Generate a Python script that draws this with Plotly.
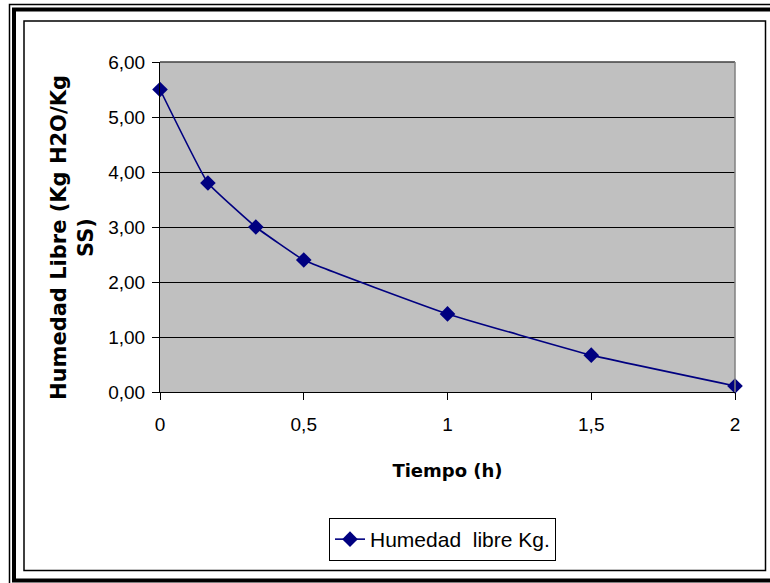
import plotly.graph_objects as go

# Drying curve: free moisture vs time
tiempo_h = [0, 1/6, 1/3, 0.5, 1.0, 1.5, 2.0]
humedad_libre = [5.50, 3.80, 3.00, 2.40, 1.42, 0.67, 0.11]

x_ticks = [0, 0.5, 1, 1.5, 2]
x_tick_text = ["0", "0,5", "1", "1,5", "2"]
y_ticks = [0, 1, 2, 3, 4, 5, 6]
y_tick_text = ["0,00", "1,00", "2,00", "3,00", "4,00", "5,00", "6,00"]

W, H = 770, 583
L, R, T, B = 160, 35, 62, 191
PW, PH = W - L - R, H - T - B


def px(x):
    return (x - L) / PW


def py(y):
    return (H - B - y) / PH


NAVY = "#000080"
FONT = "Liberation Sans, Arial, sans-serif"

fig = go.Figure()
fig.add_trace(go.Scatter(
    x=tiempo_h, y=humedad_libre,
    mode="lines+markers",
    name="Humedad\u00a0 libre Kg.",
    line=dict(color=NAVY, width=1.6, shape="spline", smoothing=0.3),
    marker=dict(symbol="diamond", size=12, color=NAVY),
    cliponaxis=False,
))

fig.update_layout(
    width=W, height=H,
    margin=dict(l=L, r=R, t=T, b=B, pad=0),
    paper_bgcolor="white",
    plot_bgcolor="#C0C0C0",
    font=dict(family=FONT, size=19, color="black"),
    separators=",.",
    showlegend=True,
    legend=dict(
        x=px(329), y=py(518), xanchor="left", yanchor="top",
        bordercolor="black", borderwidth=1, bgcolor="white",
        font=dict(family=FONT, size=21),
    ),
    xaxis=dict(
        range=[0, 2], tickvals=x_ticks, ticktext=x_tick_text,
        showgrid=False, zeroline=False,
        showline=True, linecolor="black", linewidth=1,
        ticks="outside", ticklen=7, tickcolor="black",
        tickfont=dict(size=19), ticklabelstandoff=8,
        title=dict(text="<b>Tiempo (h)</b>", standoff=30,
                   font=dict(family="DejaVu Sans, sans-serif", size=18)),
    ),
    yaxis=dict(
        range=[0, 6], tickvals=y_ticks, ticktext=y_tick_text,
        showgrid=True, gridcolor="black", gridwidth=1,
        zeroline=False,
        showline=True, linecolor="black", linewidth=1,
        ticks="outside", ticklen=7, tickcolor="black",
        tickfont=dict(size=19), ticklabelstandoff=3,
    ),
)

# Y-axis title, wrapped over two lines
fig.add_annotation(
    text="<b>Humedad Libre (Kg H2O/Kg<br>SS)</b>",
    xref="paper", yref="paper", x=px(72), y=py(238),
    xanchor="center", yanchor="middle", textangle=-90, showarrow=False,
    font=dict(family="DejaVu Sans, sans-serif", size=21, color="black"),
)

# Plot-area outline (grey on top/right)
fig.add_shape(type="line", xref="paper", yref="paper",
              x0=0, x1=1, y0=1, y1=1, line=dict(color="#404040", width=1.5))
fig.add_shape(type="line", xref="paper", yref="paper",
              x0=1, x1=1, y0=0, y1=1, line=dict(color="#808080", width=1.5))

# Chart-area frame and outer double border
fig.add_shape(type="rect", xref="paper", yref="paper",
              x0=px(24), x1=px(765.5), y0=py(21), y1=py(570.5),
              line=dict(color="black", width=1.5))
fig.add_shape(type="rect", xref="paper", yref="paper",
              x0=px(9.5), x1=px(790), y0=py(4.5), y1=py(600),
              line=dict(color="black", width=1.5))
fig.add_shape(type="rect", xref="paper", yref="paper",
              x0=px(14), x1=px(790), y0=py(9.5), y1=py(580.5),
              line=dict(color="black", width=4))

fig.write_html("out.html")
